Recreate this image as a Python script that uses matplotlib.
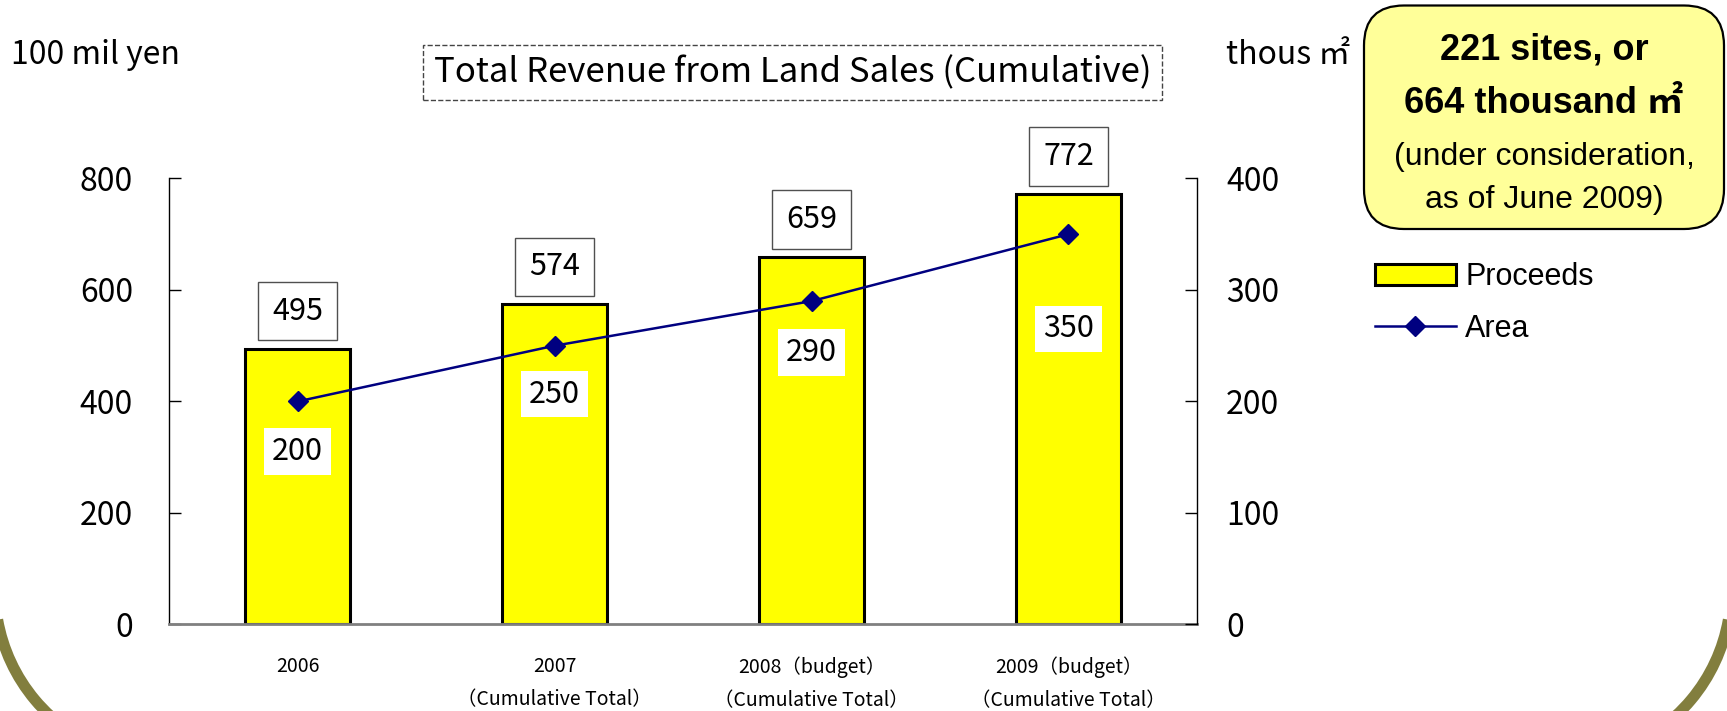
import numpy as np
import matplotlib
matplotlib.use('Agg')
import matplotlib.pyplot as plt
from matplotlib.patches import Arc, FancyBboxPatch

plt.rcParams['font.family'] = ['Noto Sans CJK JP', 'DejaVu Sans']

# data
categories = ['2006',
              '2007\n（Cumulative Total）',
              '2008（budget）\n（Cumulative Total）',
              '2009（budget）\n（Cumulative Total）']
proceeds = [495, 574, 659, 772]      # 100 mil yen
area = [200, 250, 290, 350]          # thous m2
left_ticks = [0, 200, 400, 600, 800]
right_ticks = [0, 100, 200, 300, 400]
area_label_offsets = [-36, -35, -37, -68]   # points below the marker

fig = plt.figure(figsize=(17.27, 7.11), dpi=100)
ax = fig.add_axes([0.0979, 0.1217, 0.5952, 0.6273])
x = np.arange(len(categories))

bars = ax.bar(x, proceeds, width=0.41, color='#FFFF00', edgecolor='black',
              linewidth=2.2, label='Proceeds', zorder=2)
ax.set_xlim(-0.5, len(categories) - 0.5)
ax.set_ylim(0, 800)
ax.set_yticks(left_ticks)
ax.set_xticks(x)
ax.set_xticklabels(categories, fontsize=14, linespacing=1.75)
ax.tick_params(axis='x', length=0, pad=23)
ax.tick_params(axis='y', direction='in', length=8.6, width=1, pad=26, labelsize=23)
for s in ['top', 'right']:
    ax.spines[s].set_visible(False)
ax.spines['left'].set_linewidth(1)
ax.spines['bottom'].set_color('#808080')
ax.spines['bottom'].set_linewidth(2)

for xi, v in zip(x, proceeds):
    ax.annotate(str(v), (xi, v), xytext=(0, 27), textcoords='offset points',
                ha='center', va='center', fontsize=22,
                bbox=dict(boxstyle='square,pad=0.45', fc='white', ec='#505050', lw=1))

ax2 = ax.twinx()
line, = ax2.plot(x, area, color='#000080', lw=1.8, marker='D', ms=10, label='Area')
ax2.set_ylim(0, 400)
ax2.set_yticks(right_ticks)
ax2.tick_params(axis='y', direction='in', length=8.6, width=1, pad=21, labelsize=23)
for s in ['top', 'left', 'bottom']:
    ax2.spines[s].set_visible(False)
ax2.spines['right'].set_linewidth(1)

for xi, v, off in zip(x, area, area_label_offsets):
    ax2.annotate(str(v), (xi, v), xytext=(0, off), textcoords='offset points',
                 ha='center', va='center', fontsize=22,
                 bbox=dict(boxstyle='square,pad=0.25', fc='white', ec='none'))

# axis units and title
fig.text(0.0064, 0.923, '100 mil yen', fontsize=23, ha='left', va='center')
fig.text(0.710, 0.923, 'thous ㎡', fontsize=23, ha='left', va='center')
fig.text(0.459, 0.898, 'Total Revenue from Land Sales (Cumulative)', fontsize=25,
         ha='center', va='center',
         bbox=dict(boxstyle='square,pad=0.3', fc='white', ec='#444444', ls='--', lw=1))

# note box at top right
note = FancyBboxPatch((13.64, 4.82), 3.60, 2.235, boxstyle='round,pad=0,rounding_size=0.4',
                      transform=fig.dpi_scale_trans, fc='#FFFF99', ec='black', lw=1.6)
fig.patches.append(note)
arial = ['Liberation Sans', 'Noto Sans CJK JP', 'DejaVu Sans']
fig.text(0.894, 0.930, '221 sites, or', family=arial, fontsize=26, weight='bold',
         ha='center', va='center')
fig.text(0.894, 0.854, '664 thousand ㎡', family=arial, fontsize=26, weight='bold',
         ha='center', va='center')
fig.text(0.894, 0.779, '(under consideration,', family=arial, fontsize=23,
         ha='center', va='center')
fig.text(0.894, 0.719, 'as of June 2009)', family=arial, fontsize=23,
         ha='center', va='center')

fig.legend([bars, line], ['Proceeds', 'Area'], loc='upper left',
           bbox_to_anchor=(1375 / 1727, 1 - 262 / 711), frameon=False,
           prop={'family': arial, 'size': 22}, handlelength=2.65,
           handletextpad=0.3, labelspacing=0.72, borderpad=0, borderaxespad=0)

# olive slide border arcs in the bottom corners
olive = '#827E3E'
fig.patches.append(Arc((1.66, 1.21), 3.42, 3.42, theta1=190, theta2=250,
                       transform=fig.dpi_scale_trans, color=olive, lw=8))
fig.patches.append(Arc((15.60, 1.21), 3.42, 3.42, theta1=-70, theta2=-10,
                       transform=fig.dpi_scale_trans, color=olive, lw=8))

fig.savefig('out.png', dpi=100)
